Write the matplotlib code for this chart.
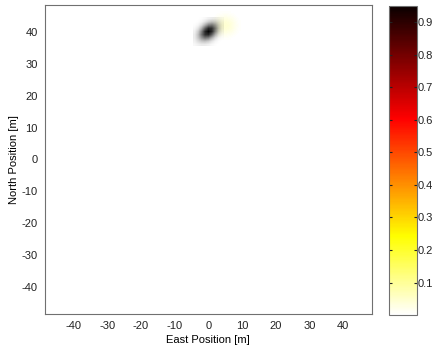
import numpy as np
import matplotlib
matplotlib.use('Agg')
import matplotlib.pyplot as plt
from matplotlib.colors import LinearSegmentedColormap

plt.rcParams['font.family'] = ['Liberation Sans', 'DejaVu Sans']
plt.rcParams['font.size'] = 8
plt.rcParams['axes.unicode_minus'] = False

# main dark blob (1 m cells), columns x = -4..4, rows y = 44..36
blob_x = [-4, 4]
blob_y = [36, 44]
blob = [
    [0.00, 0.00, 0.01, 0.03, 0.06, 0.08, 0.08, 0.06, 0.03],
    [0.00, 0.01, 0.04, 0.11, 0.20, 0.25, 0.22, 0.14, 0.06],
    [0.01, 0.04, 0.14, 0.31, 0.49, 0.54, 0.41, 0.22, 0.08],
    [0.03, 0.11, 0.31, 0.61, 0.84, 0.80, 0.54, 0.25, 0.08],
    [0.06, 0.20, 0.49, 0.84, 0.98, 0.84, 0.49, 0.20, 0.06],
    [0.08, 0.25, 0.54, 0.80, 0.84, 0.61, 0.31, 0.11, 0.03],
    [0.08, 0.22, 0.41, 0.54, 0.49, 0.31, 0.14, 0.04, 0.01],
    [0.06, 0.14, 0.22, 0.25, 0.20, 0.11, 0.04, 0.01, 0.00],
    [0.03, 0.06, 0.08, 0.08, 0.06, 0.03, 0.01, 0.00, 0.00],
]

# faint halo, columns x = 1..9, rows y = 46..38
halo_x = [1, 9]
halo_y = [38, 46]
halo = [
    [0.000, 0.000, 0.003, 0.005, 0.006, 0.005, 0.003, 0.000, 0.000],
    [0.000, 0.004, 0.010, 0.015, 0.017, 0.015, 0.010, 0.004, 0.000],
    [0.003, 0.010, 0.020, 0.027, 0.030, 0.027, 0.020, 0.010, 0.003],
    [0.005, 0.015, 0.027, 0.037, 0.041, 0.037, 0.027, 0.015, 0.005],
    [0.006, 0.017, 0.030, 0.041, 0.045, 0.041, 0.030, 0.017, 0.006],
    [0.005, 0.015, 0.027, 0.037, 0.041, 0.037, 0.027, 0.015, 0.005],
    [0.003, 0.010, 0.020, 0.027, 0.030, 0.027, 0.020, 0.010, 0.003],
    [0.000, 0.004, 0.010, 0.015, 0.017, 0.015, 0.010, 0.004, 0.000],
    [0.000, 0.000, 0.003, 0.005, 0.006, 0.005, 0.003, 0.000, 0.000],
]

ticks = [-40, -30, -20, -10, 0, 10, 20, 30, 40]
cbar_ticks = [0.1, 0.2, 0.3, 0.4, 0.5, 0.6, 0.7, 0.8, 0.9]
vmax = 0.95

fig = plt.figure(figsize=(4.33, 3.52), dpi=100)
ax = fig.add_axes([0.1032, 0.108, 0.756, 0.878])
cax = fig.add_axes([0.8995, 0.105, 0.0628, 0.878])

def ext(xr, yr):
    return [xr[0] - 0.5, xr[1] + 0.5, yr[0] - 0.5, yr[1] + 0.5]

im = ax.imshow(np.array(halo), cmap='hot_r', vmin=0, vmax=vmax,
               extent=ext(halo_x, halo_y), interpolation='bilinear',
               origin='upper')
shade = LinearSegmentedColormap.from_list('shade', [(0, 0, 0, 0), (0, 0, 0, 1)])
ax.imshow(np.array(blob), cmap=shade, vmin=0, vmax=1,
          extent=ext(blob_x, blob_y), interpolation='bilinear', origin='upper')

ax.set_xlim(-48.5, 48.5)
ax.set_ylim(-48.5, 48.5)
ax.set_aspect('auto')
ax.set_xticks(ticks)
ax.set_yticks(ticks)
ax.tick_params(length=0, pad=5, labelsize=8, colors='#222222')
ax.set_xlabel('East Position [m]', fontsize=8, labelpad=3)
ax.set_ylabel('North Position [m]', fontsize=8, labelpad=2)
for s in ax.spines.values():
    s.set_color('#707070')

cb = fig.colorbar(im, cax=cax, ticks=cbar_ticks)
cb.ax.set_yticklabels([str(t) for t in cbar_ticks])
cax.tick_params(direction='in', length=2.5, width=0.8, pad=1, labelsize=8,
                colors='#222222', left=True, right=True)
cb.outline.set_edgecolor('#707070')

fig.savefig('out.png', dpi=100)
